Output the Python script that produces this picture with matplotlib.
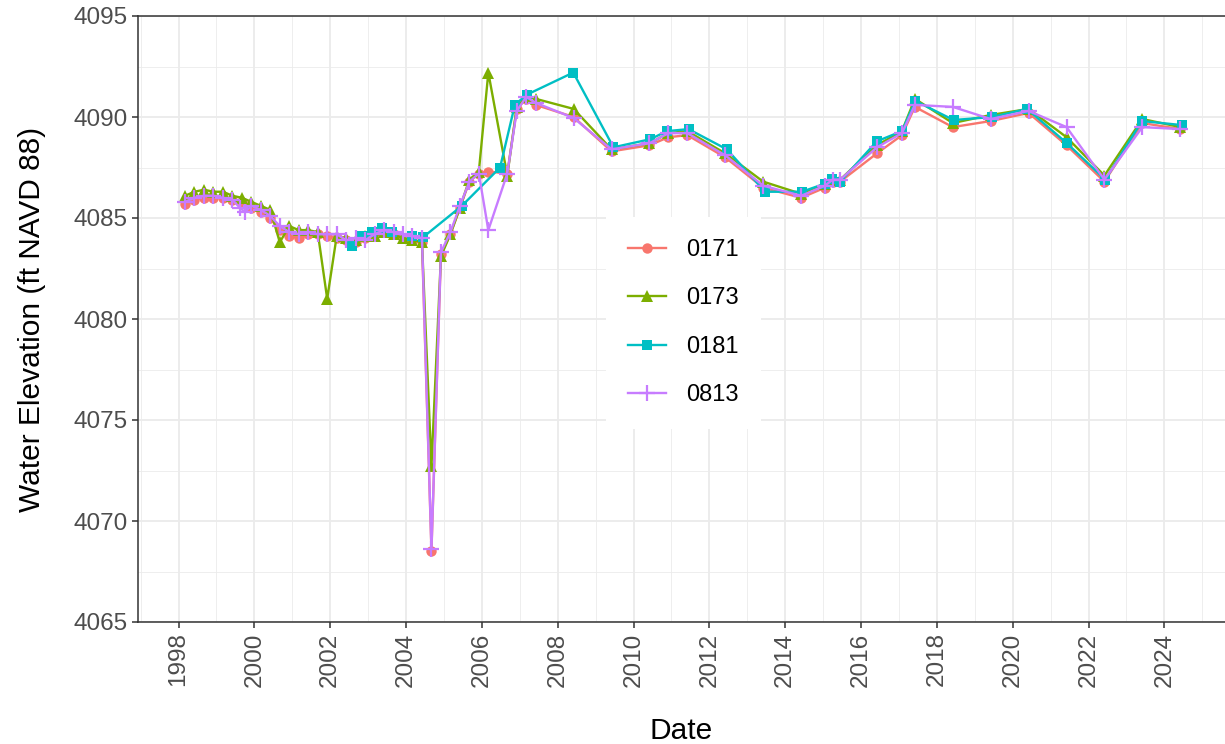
import matplotlib.pyplot as plt
from matplotlib.ticker import MultipleLocator

plt.rcParams['font.family'] = ['Liberation Sans', 'DejaVu Sans']

# --- data (decimal year, ft NAVD 88) ---
early_dates = [1998.17, 1998.42, 1998.67, 1998.92, 1999.17, 1999.42, 1999.67, 1999.92,
               2000.17, 2000.42, 2000.67, 2000.92, 2001.17, 2001.42, 2001.67, 2001.92,
               2002.17, 2002.42, 2002.67, 2002.92, 2003.17, 2003.42, 2003.67, 2003.92,
               2004.17, 2004.42, 2004.67, 2004.92, 2005.17, 2005.42, 2005.67, 2005.92,
               2006.17, 2006.67, 2006.92, 2007.17, 2007.42]
late_dates = [2008.42, 2009.42, 2010.42, 2010.92, 2011.42, 2012.42, 2013.42, 2014.42,
              2015.05, 2015.25, 2015.45, 2016.42, 2017.08, 2017.42, 2018.42, 2019.42,
              2020.42, 2021.42, 2022.42, 2023.42, 2024.42]

dates_0171 = early_dates + late_dates
vals_0171 = [4085.7, 4085.9, 4086.0, 4086.0, 4086.0, 4085.9, 4085.8, 4085.5,
             4085.3, 4085.0, 4084.4, 4084.1, 4084.0, 4084.2, 4084.2, 4084.1,
             4084.0, 4083.9, 4083.8, 4084.0, 4084.2, 4084.3, 4084.2, 4084.0,
             4083.9, 4083.8, 4068.5, 4083.2, 4084.2, 4085.5, 4086.8, 4087.2,
             4087.3, 4087.2, 4090.4, 4090.9, 4090.6,
             4090.0, 4088.3, 4088.6, 4089.0, 4089.1, 4088.0, 4086.5, 4086.0,
             4086.5, 4086.8, 4086.8, 4088.2, 4089.1, 4090.5, 4089.5, 4089.8,
             4090.2, 4088.6, 4086.8, 4089.7, 4089.4]

dates_0173 = early_dates + late_dates
vals_0173 = [4086.1, 4086.3, 4086.4, 4086.3, 4086.3, 4086.1, 4086.0, 4085.8,
             4085.6, 4085.4, 4083.8, 4084.6, 4084.4, 4084.4, 4084.3, 4081.0,
             4084.1, 4084.0, 4083.9, 4084.1, 4084.1, 4084.3, 4084.2, 4084.0,
             4083.9, 4083.8, 4072.7, 4083.1, 4084.2, 4085.5, 4086.9, 4087.3,
             4092.2, 4087.1, 4090.5, 4091.0, 4090.9,
             4090.4, 4088.4, 4088.7, 4089.2, 4089.3, 4088.2, 4086.8, 4086.2,
             4086.7, 4086.9, 4086.9, 4088.6, 4089.3, 4090.9, 4089.7, 4090.1,
             4090.4, 4089.0, 4087.1, 4089.9, 4089.5]

dates_0181 = [2002.57, 2002.83, 2003.10, 2003.36, 2003.62, 2004.15, 2004.45,
              2005.47, 2006.48, 2006.87, 2007.18, 2008.41, 2009.47, 2010.44,
              2010.88, 2011.45, 2012.46, 2013.47, 2014.44, 2015.05, 2015.23,
              2015.45, 2016.42, 2017.08, 2017.43, 2018.44, 2019.45, 2020.38,
              2021.43, 2022.44, 2023.41, 2024.46]
vals_0181 = [4083.6, 4084.1, 4084.3, 4084.5, 4084.3, 4084.1, 4084.05,
             4085.6, 4087.5, 4090.6, 4091.1, 4092.2, 4088.5, 4088.9,
             4089.3, 4089.4, 4088.4, 4086.3, 4086.3, 4086.7, 4086.95,
             4086.8, 4088.8, 4089.3, 4090.8, 4089.85, 4090.0, 4090.4,
             4088.7, 4086.9, 4089.8, 4089.6]

dates_0813 = [1998.17, 1998.42, 1998.67, 1998.92, 1999.17, 1999.42, 1999.62, 1999.75,
              1999.92, 2000.17, 2000.42, 2000.67, 2000.92, 2001.17, 2001.42, 2001.67,
              2001.92, 2002.17, 2002.42, 2002.67, 2002.92, 2003.17, 2003.42, 2003.67,
              2003.92, 2004.17, 2004.42, 2004.67, 2004.92, 2005.17, 2005.42, 2005.67,
              2005.92, 2006.17, 2006.67, 2006.92, 2007.17, 2007.42] + late_dates
vals_0813 = [4085.8, 4086.0, 4086.1, 4086.1, 4086.0, 4085.9, 4085.5, 4085.3,
             4085.6, 4085.4, 4085.1, 4084.6, 4084.3, 4084.2, 4084.3, 4084.2,
             4084.2, 4084.2, 4083.9, 4084.0, 4083.9, 4084.2, 4084.4, 4084.3,
             4084.2, 4084.1, 4084.0, 4068.6, 4083.3, 4084.3, 4085.6, 4086.8,
             4087.2, 4084.4, 4087.2, 4090.3, 4091.0, 4090.7,
             4089.95, 4088.4, 4088.7, 4089.2, 4089.2, 4088.1, 4086.6, 4086.1,
             4086.6, 4086.9, 4086.9, 4088.5, 4089.2, 4090.6, 4090.5, 4089.9,
             4090.3, 4089.5, 4086.9, 4089.5, 4089.4]

series = [('0171', dates_0171, vals_0171, '#F8766D', 'o', 7.5),
          ('0173', dates_0173, vals_0173, '#7CAE00', '^', 8.5),
          ('0181', dates_0181, vals_0181, '#00BFC4', 's', 7),
          ('0813', dates_0813, vals_0813, '#C77CFF', '+', 11)]

fig = plt.figure(figsize=(12.25, 7.44), dpi=100)
ax = fig.add_axes([138/1225, 122/744, 1 - 138/1225, (622-16)/744])

for name, d, v, col, mk, ms in series:
    ax.plot(d, v, color=col, lw=1.7, marker=mk, markersize=ms,
            markeredgewidth=1.6 if mk == '+' else 0, label=name, zorder=3)

ax.set_xlim(1996.93, 2025.6)
ax.set_ylim(4065, 4095)
ax.xaxis.set_major_locator(MultipleLocator(2))
ax.xaxis.set_minor_locator(MultipleLocator(1))
ax.yaxis.set_major_locator(MultipleLocator(5))
ax.yaxis.set_minor_locator(MultipleLocator(2.5))
ax.grid(which='major', color='#EBEBEB', lw=1.3, zorder=0)
ax.grid(which='minor', color='#EBEBEB', lw=0.6, zorder=0)
ax.set_axisbelow(True)

ax.tick_params(which='major', length=4, width=1.1, color='#333333',
               labelsize=17.5, labelcolor='#4D4D4D')
ax.tick_params(which='minor', length=0)
ax.tick_params(axis='x', labelrotation=90)
for s in ['left', 'bottom', 'top']:
    ax.spines[s].set_color('#333333')
    ax.spines[s].set_linewidth(1.1)
ax.spines['right'].set_visible(False)

ax.set_xlabel('Date', fontsize=21.5, labelpad=22)
ax.set_ylabel('Water Elevation (ft NAVD 88)', fontsize=21.5, labelpad=20)

leg = ax.legend(loc='center', bbox_to_anchor=(0.502, 0.494), frameon=True,
                fontsize=17, handlelength=1.6, labelspacing=1.12,
                borderpad=0.95, handletextpad=0.85, fancybox=False)
leg.get_frame().set_edgecolor('none')
leg.get_frame().set_facecolor('white')
leg.get_frame().set_alpha(1)

fig.savefig('out.png', dpi=100)
